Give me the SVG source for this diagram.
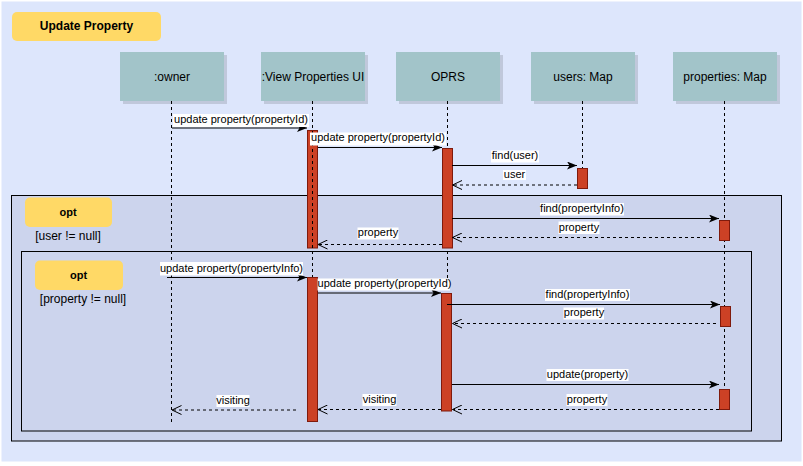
<svg xmlns="http://www.w3.org/2000/svg" width="803" height="466" viewBox="0 0 803 466">
<defs>
<marker id="block" viewBox="0 0 10 8" refX="10" refY="4" markerWidth="10" markerHeight="8" orient="auto" markerUnits="userSpaceOnUse"><path d="M0,0 L10,4 L0,8 L2.5,4 z" fill="#000"/></marker>
<marker id="open" viewBox="0 0 10 10" refX="9.5" refY="5" markerWidth="10" markerHeight="10" orient="auto" markerUnits="userSpaceOnUse"><path d="M0,0.5 L9.5,5 L0,9.5" fill="none" stroke="#000" stroke-width="1"/></marker>
</defs>
<style>
text{font-family:"Liberation Sans",Arial,sans-serif;fill:#000}
.hdr{fill:#a2c4c9}
.shd{fill:#000;opacity:0.13}
.hl{font-size:12px;text-anchor:middle}
.yel{fill:#ffd966}
.frame{fill:#ccd4ed;stroke:#000;stroke-width:1}
.life{stroke:#000;stroke-width:1;stroke-dasharray:3 3;fill:none}
.act{fill:#cc4125;stroke:#7f1a0c;stroke-width:1}
.msg{stroke:#000;stroke-width:1;fill:none;marker-end:url(#block)}
.ret{stroke:#000;stroke-width:1;fill:none;stroke-dasharray:3 3;marker-end:url(#open)}
.lbg{fill:#fff}
.ml{font-size:11px;text-anchor:middle}
.b{font-weight:bold}
</style>
<rect x="1.5" y="1.5" width="800" height="460" fill="#dde6fc"/>
<g id="title"><rect class="yel" x="12" y="12" width="149" height="29" rx="5"/><text class="hl b" x="86.5" y="29.5">Update Property</text></g>
<g id="opt-outer"><rect class="frame" x="11.5" y="195.5" width="770" height="245.5"/><rect class="yel" x="25" y="197.5" width="87" height="29.5" rx="5"/><text class="b" x="68" y="216" font-size="11" text-anchor="middle">opt</text><text class="hl" x="68" y="239.5">[user != null]</text></g>
<g id="opt-inner"><rect class="frame" x="21.5" y="251.5" width="730" height="179.5"/><rect class="yel" x="35" y="260.5" width="88" height="29.5" rx="5"/><text class="b" x="78.5" y="278.5" font-size="11" text-anchor="middle">opt</text><text class="hl" x="83" y="302.5">[property != null]</text></g>
<g id="owner"><rect class="shd" x="123" y="55" width="104" height="49"/><rect class="hdr" x="120" y="52" width="104" height="49"/><text class="hl" x="172" y="80.5">:owner</text><line class="life" x1="171.5" y1="101" x2="171.5" y2="422"/></g>
<g id="view-ui"><rect class="shd" x="264" y="55" width="104" height="49"/><rect class="hdr" x="261" y="52" width="104" height="49"/><text class="hl" x="313" y="80.5">:View Properties UI</text><line class="life" x1="312.5" y1="101" x2="312.5" y2="278"/><rect class="act" x="307.5" y="130.5" width="10" height="117.5"/><line class="life" x1="312.5" y1="131" x2="312.5" y2="248"/><rect class="act" x="307.5" y="277.5" width="10" height="144"/></g>
<g id="oprs"><rect class="shd" x="399" y="55" width="104" height="49"/><rect class="hdr" x="396" y="52" width="104" height="49"/><text class="hl" x="448" y="80.5">OPRS</text><line class="life" x1="447.5" y1="101" x2="447.5" y2="294"/><rect class="act" x="442.5" y="148.5" width="10" height="99.5"/><rect class="act" x="441.5" y="293.5" width="10" height="117.5"/></g>
<g id="users-map"><rect class="shd" x="534" y="55" width="104" height="49"/><rect class="hdr" x="531" y="52" width="104" height="49"/><text class="hl" x="583" y="80.5">users: Map</text><line class="life" x1="582.5" y1="101" x2="582.5" y2="168"/><rect class="act" x="577.5" y="168.5" width="10" height="20"/></g>
<g id="properties-map"><rect class="shd" x="676" y="55" width="104" height="49"/><rect class="hdr" x="673" y="52" width="104" height="49"/><text class="hl" x="725" y="80.5">properties: Map</text><line class="life" x1="724.5" y1="101" x2="724.5" y2="390"/><rect class="act" x="719.5" y="220.5" width="10" height="20"/><rect class="act" x="720.5" y="306.5" width="10" height="20"/><rect class="act" x="719.5" y="389.5" width="10" height="20"/></g>
<g id="connectors">
<line class="msg" x1="172" y1="128" x2="307" y2="128"/>
<rect class="lbg" x="173" y="114" width="136" height="13"/><text class="ml" x="241" y="122.5">update property(propertyId)</text>
<line class="msg" x1="318" y1="147.5" x2="442" y2="147.5"/>
<rect class="lbg" x="310" y="132.5" width="136" height="13"/><text class="ml" x="378" y="141">update property(propertyId)</text>
<line class="msg" x1="452" y1="165.5" x2="577" y2="165.5"/>
<rect class="lbg" x="491" y="150.5" width="48" height="12"/><text class="ml" x="515" y="159">find(user)</text>
<line class="ret" x1="577" y1="185" x2="452.5" y2="185"/>
<rect class="lbg" x="503" y="170" width="23" height="10"/><text class="ml" x="514.5" y="177.5">user</text>
<line class="msg" x1="452" y1="218.5" x2="719" y2="218.5"/>
<rect class="lbg" x="540" y="203" width="84" height="12.5"/><text class="ml" x="582" y="212">find(propertyInfo)</text>
<line class="ret" x1="712" y1="237.5" x2="452.5" y2="237.5"/>
<rect class="lbg" x="558.5" y="221.5" width="41" height="12.5"/><text class="ml" x="579" y="230.5">property</text>
<line class="ret" x1="442" y1="244.5" x2="318" y2="244.5"/>
<rect class="lbg" x="357.5" y="227.5" width="41" height="12"/><text class="ml" x="378" y="236">property</text>
<line class="msg" x1="167" y1="277.5" x2="307" y2="277.5"/>
<rect class="lbg" x="160" y="262" width="143" height="13.5"/><text class="ml" x="231.5" y="271.5">update property(propertyInfo)</text>
<line class="msg" x1="318" y1="293" x2="441" y2="293"/>
<rect class="lbg" x="317.5" y="278.5" width="132.5" height="12"/><text class="ml" x="384.5" y="287">update property(propertyId)</text>
<line class="msg" x1="447" y1="304.5" x2="720" y2="304.5"/>
<rect class="lbg" x="545" y="289" width="85" height="12"/><text class="ml" x="587.5" y="298">find(propertyInfo)</text>
<line class="ret" x1="716" y1="323.5" x2="452.5" y2="323.5"/>
<rect class="lbg" x="563.5" y="307.5" width="40.5" height="12"/><text class="ml" x="584" y="316">property</text>
<line class="msg" x1="452" y1="384.5" x2="719" y2="384.5"/>
<rect class="lbg" x="546.5" y="369" width="82" height="12"/><text class="ml" x="587.5" y="378">update(property)</text>
<line class="ret" x1="719" y1="409.5" x2="452.5" y2="409.5"/>
<rect class="lbg" x="566.5" y="394" width="41" height="12"/><text class="ml" x="587" y="402.5">property</text>
<line class="ret" x1="441" y1="409.5" x2="318" y2="409.5"/>
<rect class="lbg" x="362.5" y="394" width="34" height="12"/><text class="ml" x="379.5" y="402.5">visiting</text>
<line class="ret" x1="296" y1="410" x2="172" y2="410"/>
<rect class="lbg" x="216.5" y="395" width="33" height="12"/><text class="ml" x="233" y="403.5">visiting</text>
</g>
</svg>
